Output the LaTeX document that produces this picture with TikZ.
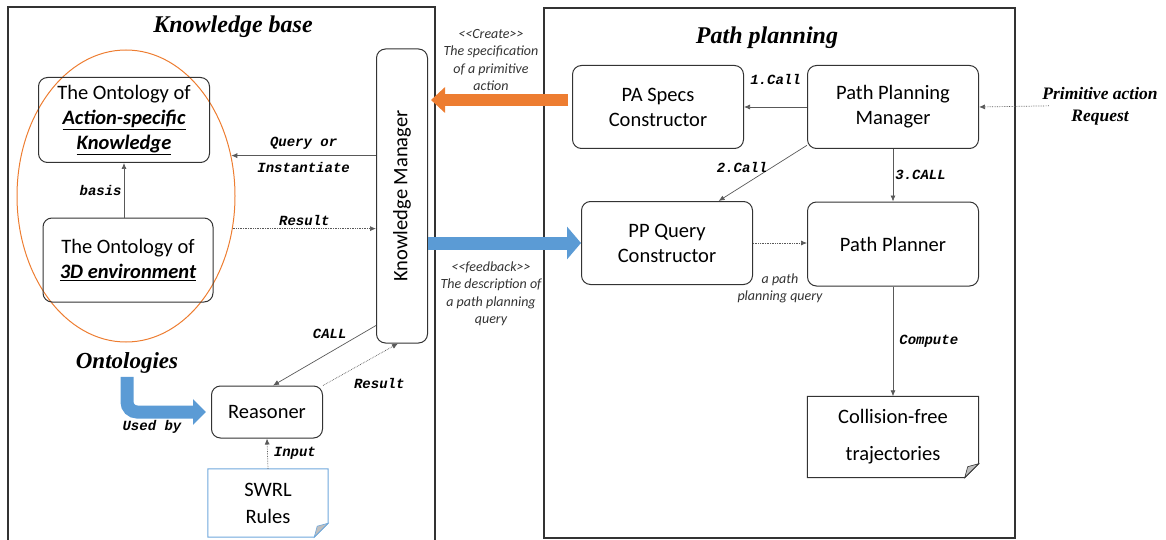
\documentclass[tikz,border=0pt]{standalone}
\usepackage{fontspec}
\setmainfont{Carlito}
\newfontfamily\titlefont{Liberation Serif}
\newfontfamily\codefont{Liberation Mono}
\usetikzlibrary{shapes.geometric,arrows.meta,calc}

\definecolor{ppOrange}{HTML}{ED7D31}
\definecolor{ppBlue}{HTML}{5B9BD5}
\definecolor{ruleBlue}{HTML}{6FA8DC}

\tikzset{
  block/.style={draw=black!80, line width=1pt, rounded corners=9pt, align=center,
    inner sep=0pt, font=\fontsize{20.5}{25}\selectfont},
  paper/.style={inner sep=0pt, align=center, font=\fontsize{20.5}{25}\selectfont},
  link/.style={draw=black!65, line width=0.7pt, -{Latex[length=6pt,width=5pt]}},
  feed/.style={link, densely dotted},
  lab/.style={font=\codefont\bfseries\itshape\fontsize{14}{16}\selectfont, inner sep=2pt},
  note/.style={font=\itshape\fontsize{14}{17.5}\selectfont, align=center, text=black!80},
  heading/.style={font=\titlefont\bfseries\itshape\fontsize{24}{28}\selectfont},
}

\newcommand\dogear[2]{%
  \draw[#2, line width=1pt] (#1.north west) -- (#1.north east)
    -- ($(#1.south east)+(0,14pt)$) -- ($(#1.south east)+(-14pt,0)$)
    -- (#1.south west) -- cycle;
  \filldraw[#2, fill=black!25, line width=0.6pt] ($(#1.south east)+(0,14pt)$)
    -- ($(#1.south east)+(-14pt,0)$) -- ($(#1.south east)+(-11pt,11pt)$) -- cycle;}

\begin{document}
\begin{tikzpicture}[x=1pt,y=-1pt]
  \useasboundingbox (0,0) rectangle (1166,540);

  \draw[black!80, line width=1.3pt] (8,540) -- (8,7) -- (435,7) -- (435,540);
  \draw[black!80, line width=1.3pt] (544,8) rectangle (1015,538);

  \node[heading] (kbtitle) at (233,27) {Knowledge base};
  \node[heading] (pptitle) at (767,38) {Path planning};
  \node[heading, font=\titlefont\bfseries\itshape\fontsize{23}{28}\selectfont] (ont) at (127,363) {Ontologies};
  \node[font=\titlefont\bfseries\itshape\fontsize{17.5}{22}\selectfont, align=center] (req) at (1100,106) {Primitive action\\Request};

  \node[ellipse, draw=ppOrange, line width=1pt, minimum width=218pt, minimum height=292pt] (onto) at (126,196) {};

  \begin{scope}[every node/.style={block}]
    \node[minimum width=171pt, minimum height=85pt] (aok) at (124,120)
      {The Ontology of\\\textbf{\textit{\underline{Action-specific}}}\\\textbf{\textit{\underline{Knowledge}}}};
    \node[minimum width=170pt, minimum height=84pt] (tde) at (128,260)
      {The Ontology of\\\textbf{\textit{\underline{3D environment}}}};
    \node[minimum width=51pt, minimum height=294pt] (km) at (402,196) {\rotatebox{90}{Knowledge Manager}};
    \node[minimum width=111pt, minimum height=52pt] (rs) at (267,412) {Reasoner};
    \node[minimum width=171pt, minimum height=83pt] (pa)  at (658,107) {PA Specs\\Constructor};
    \node[minimum width=171pt, minimum height=83pt] (ppm) at (893,107) {Path Planning\\Manager};
    \node[minimum width=171pt, minimum height=83pt] (pq)  at (667,243) {PP Query\\Constructor};
    \node[minimum width=171pt, minimum height=84pt] (pp)  at (893,244) {Path Planner};
  \end{scope}

  \node[paper, minimum width=120pt, minimum height=68pt, font=\fontsize{20.5}{27}\selectfont] (sw) at (268,503) {SWRL\\Rules};
  \node[paper, minimum width=171pt, minimum height=81pt, font=\fontsize{20.5}{37}\selectfont] (cf) at (893,437) {Collision-free\\trajectories};
  \dogear{sw}{ruleBlue}
  \dogear{cf}{black!80}

  \coordinate (paout) at ($(pa.west)+(-4pt,7pt)$);
  \draw[ppOrange, line width=12pt, -{Triangle[length=14pt,width=25pt]}, shorten >=3pt] (paout) -- (paout -| km.east);
  \draw[ppBlue, line width=13pt, -{Triangle[length=14pt,width=32pt]}] (km.east |- pq.west) -- (pq.west);
  \draw[ppBlue, line width=13pt, rounded corners=10pt, -{Triangle[length=13pt,width=25pt]}, shorten >=5pt] (ont.south) |- (rs.west);

  \node[note] (create) at (491,60) {<{}<Create>{}>\\The specification\\of a primitive\\action};
  \node[note] (feedback) at (491,294) {<{}<feedback>{}>\\The description of\\a path planning\\query};
  \node[lab] (usedby) at (152,427) {Used by};

  \begin{scope}[every node/.style={lab}]
    \path (aok.south |- tde.north) edge[link] node[left] {basis} (aok.south);
    \path (onto.21 -| km.west) edge[link] node[above=4pt] {Query or} node[below=4pt] {Instantiate} (onto.21);
    \path (onto.-17) edge[feed] node[above=1pt] {Result} (onto.-17 -| km.west);
    \path ($(km.south west)+(0,18pt)$) edge[link] node[pos=.45, above=12pt] {CALL} ($(rs.north)+(6pt,0)$);
    \path (rs.north east) edge[feed] node[pos=.75, below=22pt] {Result} ($(km.south)+(-4pt,0)$);
    \path (sw.north) edge[feed] node[right=4pt] {Input} (rs.south);
    \path (ppm.west) edge[link] node[above=20pt] {1.Call} (pa.east);
    \path (ppm.204) edge[link] node[pos=.4, left=2pt] {2.Call} ($(pq.north)!.6!(pq.north east)$);
    \path (ppm.south) edge[link] node[right] {3.CALL} (pp.north);
    \path (pp.south) edge[link] node[right=4pt] {Compute} (cf.north);
    \path (pq.east) edge[feed] node[note, below=28pt] {a path\\planning query} (pq.east -| pp.west);
    \path (req.west) edge[feed, shorten <=-10pt] (ppm.east);
  \end{scope}

\end{tikzpicture}
\end{document}
